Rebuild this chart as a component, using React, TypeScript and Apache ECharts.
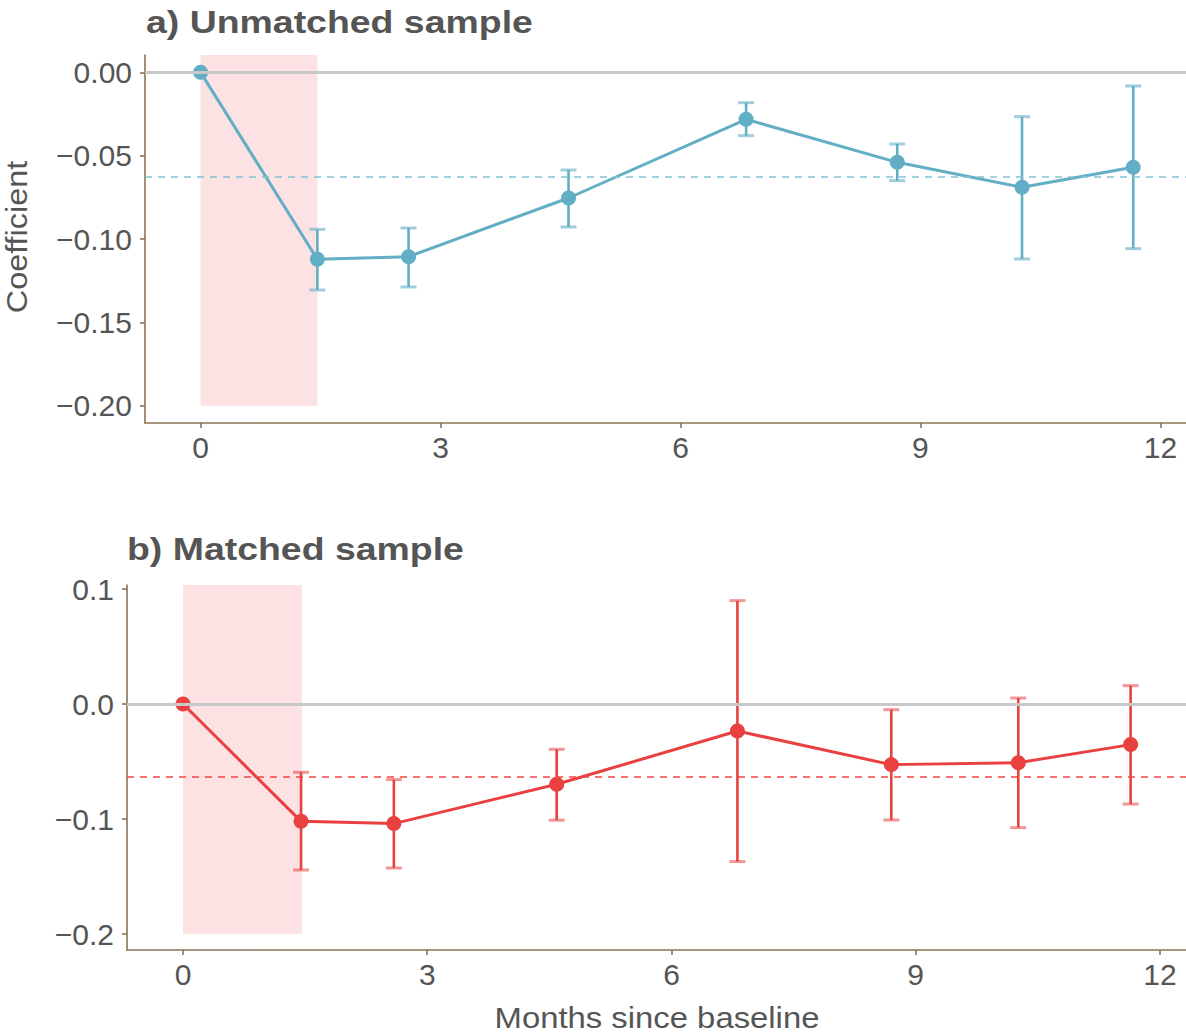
import React, { useEffect, useRef } from "react";
import * as echarts from "echarts";

// ---- Data: panel a) Unmatched sample ----
const monthsA = [0, 1.46, 2.6, 4.6, 6.82, 8.71, 10.27, 11.66];
const coefA = [0, -0.1122, -0.1106, -0.0754, -0.0282, -0.054, -0.069, -0.057];
const lowerA = [null, -0.1306, -0.1288, -0.0928, -0.038, -0.065, -0.112, -0.1058];
const upperA = [null, -0.0942, -0.0934, -0.0586, -0.0182, -0.043, -0.0266, -0.0082];
const meanA = -0.0628;
const ticksA = [0, -0.05, -0.1, -0.15, -0.2];

// ---- Data: panel b) Matched sample ----
const monthsB = [0, 1.45, 2.59, 4.59, 6.81, 8.7, 10.26, 11.64];
const coefB = [0, -0.102, -0.104, -0.0698, -0.0235, -0.0527, -0.051, -0.0353];
const lowerB = [null, -0.1443, -0.1426, -0.101, -0.137, -0.1009, -0.1075, -0.087];
const upperB = [null, -0.0594, -0.0657, -0.0394, 0.0899, -0.0049, 0.0052, 0.016];
const meanB = -0.0629;
const ticksB = [0.1, 0, -0.1, -0.2];

const xTicks = [0, 3, 6, 9, 12];
const shadeEnd = 1.46;

const FONT = '"Liberation Sans", Arial, Helvetica, sans-serif';
const TXT = "#555555";
const AXIS = "#8b7355";
const BLUE = "#62aec4";
const BLUE_CAP = "rgba(98,174,196,0.6)";
const BLUE_DASH = "#80c2d4";
const RED = "#e8413f";
const RED_CAP = "rgba(232,65,63,0.55)";
const RED_DASH = "#f04545";

const fmt = (d: number) => (v: number) => {
  const s = Math.abs(v) < 1e-9 ? (0).toFixed(d) : v.toFixed(d);
  return s.replace("-", "\u2212");
};

function errData(m: number[], lo: (number | null)[], hi: (number | null)[]) {
  const out: number[][] = [];
  m.forEach((x, i) => {
    if (lo[i] != null && hi[i] != null) out.push([x, lo[i] as number, hi[i] as number]);
  });
  return out;
}

function errSeries(idx: number, data: number[][], color: string, cap: string) {
  return {
    type: "custom",
    xAxisIndex: idx,
    yAxisIndex: idx,
    z: 2,
    silent: true,
    data,
    encode: { x: 0, y: [1, 2] },
    renderItem: (_p: any, api: any) => {
      const x = api.value(0);
      const lo = api.coord([x, api.value(1)]);
      const hi = api.coord([x, api.value(2)]);
      const cw = 8;
      return {
        type: "group",
        children: [
          { type: "line", shape: { x1: lo[0], y1: lo[1], x2: hi[0], y2: hi[1] }, style: { stroke: color, lineWidth: 2.6 } },
          { type: "line", shape: { x1: lo[0] - cw, y1: lo[1], x2: lo[0] + cw, y2: lo[1] }, style: { stroke: cap, lineWidth: 3 } },
          { type: "line", shape: { x1: hi[0] - cw, y1: hi[1], x2: hi[0] + cw, y2: hi[1] }, style: { stroke: cap, lineWidth: 3 } },
        ],
      };
    },
  };
}

function panelSeries(
  idx: number,
  m: number[],
  c: number[],
  lo: (number | null)[],
  hi: (number | null)[],
  mean: number,
  color: string,
  cap: string,
  dash: string,
  yTop: number
) {
  const pts = m.map((x, i) => [x, c[i]]);
  return [
    {
      type: "line",
      xAxisIndex: idx,
      yAxisIndex: idx,
      data: [],
      z: 1,
      silent: true,
      markLine: {
        silent: true,
        symbol: "none",
        precision: 6,
        label: { show: false },
        data: [
          { yAxis: 0, lineStyle: { color: "#c8c8c8", width: 3, type: "solid" } },
          { yAxis: mean, lineStyle: { color: dash, width: 1.6, type: [7, 6] } },
        ],
      },
    },
    {
      type: "line",
      xAxisIndex: idx,
      yAxisIndex: idx,
      data: pts,
      z: 2,
      showSymbol: false,
      silent: true,
      lineStyle: { color, width: 3 },
    },
    errSeries(idx, errData(m, lo, hi), color, cap),
    {
      type: "line",
      xAxisIndex: idx,
      yAxisIndex: idx,
      data: [],
      z: 3,
      silent: true,
      markArea: {
        silent: true,
        itemStyle: { color: "rgba(248,140,145,0.25)" },
        data: [[{ xAxis: 0, yAxis: yTop }, { xAxis: shadeEnd, yAxis: -0.2 }]],
      },
    },
    {
      type: "scatter",
      xAxisIndex: idx,
      yAxisIndex: idx,
      data: pts,
      z: 4,
      silent: true,
      symbolSize: 15,
      itemStyle: { color, opacity: 1 },
    },
  ];
}

const axisCommon = {
  axisLine: { show: true, onZero: false, lineStyle: { color: AXIS, width: 1.6 } },
  axisTick: { show: true, length: 5, lineStyle: { color: AXIS, width: 1.6 } },
  splitLine: { show: false },
};

export default function App() {
  const ref = useRef<HTMLDivElement>(null);
  useEffect(() => {
    if (!ref.current) return;
    const chart = echarts.init(ref.current, null, { renderer: "svg" });
    const yMaxA = 0.0104;
    const yMinA = -0.2104;
    const yMaxB = 0.1035;
    const yMinB = -0.2139;
    chart.setOption({
      animation: false,
      backgroundColor: "#ffffff",
      textStyle: { fontFamily: FONT },
      grid: [
        { left: 145, top: 55, width: 1041, height: 368, containLabel: false },
        { left: 127, top: 585, width: 1059, height: 365, containLabel: false },
      ],
      xAxis: [0, 1].map((i) => ({
        type: "value",
        gridIndex: i,
        min: i === 0 ? -0.695 : -0.688,
        max: 12.32,
        ...axisCommon,
        axisTick: { ...axisCommon.axisTick, customValues: xTicks },
        axisLabel: { customValues: xTicks, fontFamily: FONT, fontSize: 30, color: TXT, margin: 9, formatter: (v: number) => String(v) },
      })),
      yAxis: [
        {
          type: "value",
          gridIndex: 0,
          min: yMinA,
          max: yMaxA,
          ...axisCommon,
          axisTick: { ...axisCommon.axisTick, customValues: ticksA },
          axisLabel: { customValues: ticksA, fontFamily: FONT, fontSize: 30, color: TXT, margin: 13, formatter: fmt(2) },
        },
        {
          type: "value",
          gridIndex: 1,
          min: yMinB,
          max: yMaxB,
          ...axisCommon,
          axisTick: { ...axisCommon.axisTick, customValues: ticksB },
          axisLabel: { customValues: ticksB, fontFamily: FONT, fontSize: 30, color: TXT, margin: 13, formatter: fmt(1) },
        },
      ],
      graphic: [
        {
          type: "text",
          x: 146,
          y: 22,
          scaleX: 1.17,
          style: { text: "a) Unmatched sample", font: `bold 32px ${FONT}`, fill: TXT, textAlign: "left", textVerticalAlign: "middle" },
        },
        {
          type: "text",
          x: 127,
          y: 549,
          scaleX: 1.17,
          style: { text: "b) Matched sample", font: `bold 32px ${FONT}`, fill: TXT, textAlign: "left", textVerticalAlign: "middle" },
        },
        {
          type: "text",
          x: 17,
          y: 237,
          rotation: Math.PI / 2,
          scaleX: 1.08,
          style: { text: "Coefficient", font: `30px ${FONT}`, fill: TXT, textAlign: "center", textVerticalAlign: "middle" },
        },
        {
          type: "text",
          x: 657,
          y: 1018,
          scaleX: 1.095,
          style: { text: "Months since baseline", font: `30px ${FONT}`, fill: TXT, textAlign: "center", textVerticalAlign: "middle" },
        },
      ],
      series: [
        ...panelSeries(0, monthsA, coefA, lowerA, upperA, meanA, BLUE, BLUE_CAP, BLUE_DASH, yMaxA),
        ...panelSeries(1, monthsB, coefB, lowerB, upperB, meanB, RED, RED_CAP, RED_DASH, yMaxB),
      ],
    });
    return () => chart.dispose();
  }, []);
  return <div ref={ref} style={{ position: "fixed", left: 0, top: 0, width: 1186, height: 1035, background: "#fff" }} />;
}
